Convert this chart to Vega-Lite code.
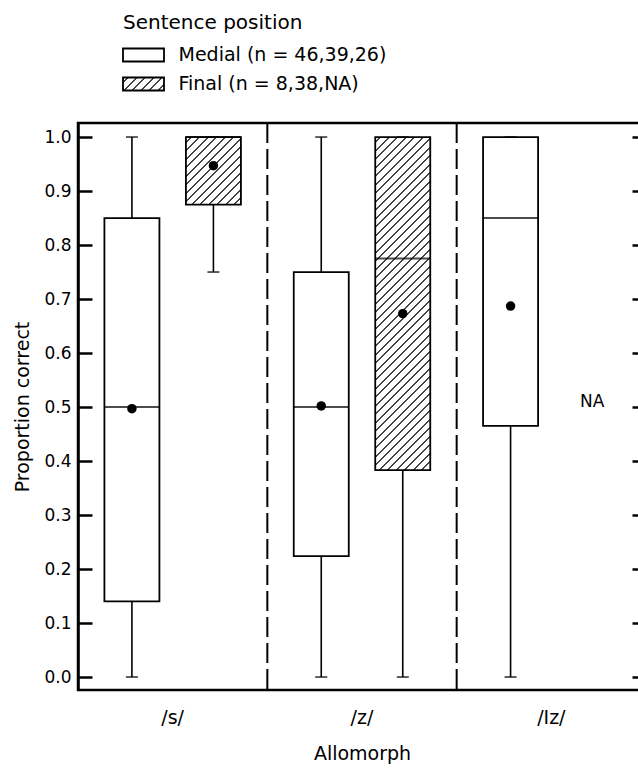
{
  "$schema": "https://vega.github.io/schema/vega-lite/v6.json",
  "width": 568,
  "height": 567,
  "autosize": {"type": "none"},
  "padding": {"left": 78, "top": 123, "right": -8, "bottom": 81},
  "params": [
    {"name": "hs", "value": [
      {"offset":0,"color":"#fff"},
      {"offset":0.01,"color":"#fff"},{"offset":0.01,"color":"#444"},{"offset":0.015,"color":"#444"},{"offset":0.015,"color":"#fff"},
      {"offset":0.03,"color":"#fff"},{"offset":0.03,"color":"#444"},{"offset":0.035,"color":"#444"},{"offset":0.035,"color":"#fff"},
      {"offset":0.05,"color":"#fff"},{"offset":0.05,"color":"#444"},{"offset":0.055,"color":"#444"},{"offset":0.055,"color":"#fff"},
      {"offset":0.07,"color":"#fff"},{"offset":0.07,"color":"#444"},{"offset":0.075,"color":"#444"},{"offset":0.075,"color":"#fff"},
      {"offset":0.09,"color":"#fff"},{"offset":0.09,"color":"#444"},{"offset":0.095,"color":"#444"},{"offset":0.095,"color":"#fff"},
      {"offset":0.11,"color":"#fff"},{"offset":0.11,"color":"#444"},{"offset":0.115,"color":"#444"},{"offset":0.115,"color":"#fff"},
      {"offset":0.13,"color":"#fff"},{"offset":0.13,"color":"#444"},{"offset":0.135,"color":"#444"},{"offset":0.135,"color":"#fff"},
      {"offset":0.15,"color":"#fff"},{"offset":0.15,"color":"#444"},{"offset":0.155,"color":"#444"},{"offset":0.155,"color":"#fff"},
      {"offset":0.17,"color":"#fff"},{"offset":0.17,"color":"#444"},{"offset":0.175,"color":"#444"},{"offset":0.175,"color":"#fff"},
      {"offset":0.19,"color":"#fff"},{"offset":0.19,"color":"#444"},{"offset":0.195,"color":"#444"},{"offset":0.195,"color":"#fff"},
      {"offset":0.21,"color":"#fff"},{"offset":0.21,"color":"#444"},{"offset":0.215,"color":"#444"},{"offset":0.215,"color":"#fff"},
      {"offset":0.23,"color":"#fff"},{"offset":0.23,"color":"#444"},{"offset":0.235,"color":"#444"},{"offset":0.235,"color":"#fff"},
      {"offset":0.25,"color":"#fff"},{"offset":0.25,"color":"#444"},{"offset":0.255,"color":"#444"},{"offset":0.255,"color":"#fff"},
      {"offset":0.27,"color":"#fff"},{"offset":0.27,"color":"#444"},{"offset":0.275,"color":"#444"},{"offset":0.275,"color":"#fff"},
      {"offset":0.29,"color":"#fff"},{"offset":0.29,"color":"#444"},{"offset":0.295,"color":"#444"},{"offset":0.295,"color":"#fff"},
      {"offset":0.31,"color":"#fff"},{"offset":0.31,"color":"#444"},{"offset":0.315,"color":"#444"},{"offset":0.315,"color":"#fff"},
      {"offset":0.33,"color":"#fff"},{"offset":0.33,"color":"#444"},{"offset":0.335,"color":"#444"},{"offset":0.335,"color":"#fff"},
      {"offset":0.35,"color":"#fff"},{"offset":0.35,"color":"#444"},{"offset":0.355,"color":"#444"},{"offset":0.355,"color":"#fff"},
      {"offset":0.37,"color":"#fff"},{"offset":0.37,"color":"#444"},{"offset":0.375,"color":"#444"},{"offset":0.375,"color":"#fff"},
      {"offset":0.39,"color":"#fff"},{"offset":0.39,"color":"#444"},{"offset":0.395,"color":"#444"},{"offset":0.395,"color":"#fff"},
      {"offset":0.41,"color":"#fff"},{"offset":0.41,"color":"#444"},{"offset":0.415,"color":"#444"},{"offset":0.415,"color":"#fff"},
      {"offset":0.43,"color":"#fff"},{"offset":0.43,"color":"#444"},{"offset":0.435,"color":"#444"},{"offset":0.435,"color":"#fff"},
      {"offset":0.45,"color":"#fff"},{"offset":0.45,"color":"#444"},{"offset":0.455,"color":"#444"},{"offset":0.455,"color":"#fff"},
      {"offset":0.47,"color":"#fff"},{"offset":0.47,"color":"#444"},{"offset":0.475,"color":"#444"},{"offset":0.475,"color":"#fff"},
      {"offset":0.49,"color":"#fff"},{"offset":0.49,"color":"#444"},{"offset":0.495,"color":"#444"},{"offset":0.495,"color":"#fff"},
      {"offset":0.51,"color":"#fff"},{"offset":0.51,"color":"#444"},{"offset":0.515,"color":"#444"},{"offset":0.515,"color":"#fff"},
      {"offset":0.53,"color":"#fff"},{"offset":0.53,"color":"#444"},{"offset":0.535,"color":"#444"},{"offset":0.535,"color":"#fff"},
      {"offset":0.55,"color":"#fff"},{"offset":0.55,"color":"#444"},{"offset":0.555,"color":"#444"},{"offset":0.555,"color":"#fff"},
      {"offset":0.57,"color":"#fff"},{"offset":0.57,"color":"#444"},{"offset":0.575,"color":"#444"},{"offset":0.575,"color":"#fff"},
      {"offset":0.59,"color":"#fff"},{"offset":0.59,"color":"#444"},{"offset":0.595,"color":"#444"},{"offset":0.595,"color":"#fff"},
      {"offset":0.61,"color":"#fff"},{"offset":0.61,"color":"#444"},{"offset":0.615,"color":"#444"},{"offset":0.615,"color":"#fff"},
      {"offset":0.63,"color":"#fff"},{"offset":0.63,"color":"#444"},{"offset":0.635,"color":"#444"},{"offset":0.635,"color":"#fff"},
      {"offset":0.65,"color":"#fff"},{"offset":0.65,"color":"#444"},{"offset":0.655,"color":"#444"},{"offset":0.655,"color":"#fff"},
      {"offset":0.67,"color":"#fff"},{"offset":0.67,"color":"#444"},{"offset":0.675,"color":"#444"},{"offset":0.675,"color":"#fff"},
      {"offset":0.69,"color":"#fff"},{"offset":0.69,"color":"#444"},{"offset":0.695,"color":"#444"},{"offset":0.695,"color":"#fff"},
      {"offset":0.71,"color":"#fff"},{"offset":0.71,"color":"#444"},{"offset":0.715,"color":"#444"},{"offset":0.715,"color":"#fff"},
      {"offset":0.73,"color":"#fff"},{"offset":0.73,"color":"#444"},{"offset":0.735,"color":"#444"},{"offset":0.735,"color":"#fff"},
      {"offset":0.75,"color":"#fff"},{"offset":0.75,"color":"#444"},{"offset":0.755,"color":"#444"},{"offset":0.755,"color":"#fff"},
      {"offset":0.77,"color":"#fff"},{"offset":0.77,"color":"#444"},{"offset":0.775,"color":"#444"},{"offset":0.775,"color":"#fff"},
      {"offset":0.79,"color":"#fff"},{"offset":0.79,"color":"#444"},{"offset":0.795,"color":"#444"},{"offset":0.795,"color":"#fff"},
      {"offset":0.81,"color":"#fff"},{"offset":0.81,"color":"#444"},{"offset":0.815,"color":"#444"},{"offset":0.815,"color":"#fff"},
      {"offset":0.83,"color":"#fff"},{"offset":0.83,"color":"#444"},{"offset":0.835,"color":"#444"},{"offset":0.835,"color":"#fff"},
      {"offset":0.85,"color":"#fff"},{"offset":0.85,"color":"#444"},{"offset":0.855,"color":"#444"},{"offset":0.855,"color":"#fff"},
      {"offset":0.87,"color":"#fff"},{"offset":0.87,"color":"#444"},{"offset":0.875,"color":"#444"},{"offset":0.875,"color":"#fff"},
      {"offset":0.89,"color":"#fff"},{"offset":0.89,"color":"#444"},{"offset":0.895,"color":"#444"},{"offset":0.895,"color":"#fff"},
      {"offset":0.91,"color":"#fff"},{"offset":0.91,"color":"#444"},{"offset":0.915,"color":"#444"},{"offset":0.915,"color":"#fff"},
      {"offset":0.93,"color":"#fff"},{"offset":0.93,"color":"#444"},{"offset":0.935,"color":"#444"},{"offset":0.935,"color":"#fff"},
      {"offset":1,"color":"#fff"}
    ]}
  ],
  "config": {
    "font": "DejaVu Sans",
    "view": {"stroke": "black", "strokeWidth": 2.5},
    "axis": {"grid": false, "labelColor": "black", "titleColor": "black", "titleFontWeight": "normal"},
    "legend": {
      "orient": "none", "legendX": 45, "legendY": -110,
      "titleFontSize": 20, "titleFontWeight": "normal", "titleColor": "black", "titlePadding": 11,
      "labelFontSize": 19, "labelColor": "black", "labelLimit": 500,
      "symbolType": "M-2.05,-0.65H2.05V0.65H-2.05Z", "symbolSize": 400,
      "symbolStrokeWidth": 1.8, "symbolOffset": 9.5, "labelOffset": 24, "rowPadding": 7
    }
  },
  "datasets": {
    "box": [
      {"Allomorph": "/s/", "Position": "Medial", "min": 0, "q1": 0.14, "median": 0.5, "q3": 0.85, "max": 1, "mean": 0.497},
      {"Allomorph": "/s/", "Position": "Final", "min": 0.75, "q1": 0.875, "median": 1, "q3": 1, "max": 1, "mean": 0.947},
      {"Allomorph": "/z/", "Position": "Medial", "min": 0, "q1": 0.224, "median": 0.5, "q3": 0.75, "max": 1, "mean": 0.502},
      {"Allomorph": "/z/", "Position": "Final", "min": 0, "q1": 0.383, "median": 0.775, "q3": 1, "max": 1, "mean": 0.673},
      {"Allomorph": "/Iz/", "Position": "Medial", "min": 0, "q1": 0.465, "median": 0.85, "q3": 1, "max": 1, "mean": 0.687}
    ],
    "na": [{"Allomorph": "/Iz/", "Position": "Final", "label": "NA", "value": 0.5}],
    "sep": [{"Allomorph": "/z/"}, {"Allomorph": "/Iz/"}]
  },
  "encoding": {
    "x": {"field": "Allomorph", "type": "nominal",
          "scale": {"domain": ["/s/", "/z/", "/Iz/"], "paddingInner": 0, "paddingOuter": 0},
          "axis": {"title": "Allomorph", "labelAngle": 0, "ticks": false, "domain": false, "labelFontSize": 19, "labelPadding": 18,
                   "titleFontSize": 19, "titleY": 69, "titleBaseline": "alphabetic"}}
  },
  "layer": [
    {
      "data": {"name": "sep"},
      "mark": {"type": "rule", "strokeDash": [20, 6], "strokeWidth": 2, "color": "black"},
      "encoding": {
        "x": {"field": "Allomorph", "type": "nominal", "bandPosition": 0,
              "scale": {"domain": ["/s/", "/z/", "/Iz/"], "paddingInner": 0, "paddingOuter": 0},
              "axis": {"title": "Allomorph", "labelAngle": 0, "ticks": false, "domain": false, "labelFontSize": 19, "labelPadding": 18,
                       "titleFontSize": 19, "titleY": 69, "titleBaseline": "alphabetic"}}
      }
    },
    {
      "data": {"name": "box"},
      "mark": {"type": "rule", "strokeWidth": 1.6, "color": "black"},
      "encoding": {
        "xOffset": {"field": "Position", "type": "nominal", "scale": {"domain": ["Medial", "Final"], "paddingInner": 0.325, "paddingOuter": 0.324}},
        "y": {"field": "min", "type": "quantitative", "scale": {"domain": [-0.024, 1.026], "nice": false, "zero": false},
              "axis": {"orient": "right", "title": null, "labels": false, "domain": false, "values": [0, 0.1, 0.2, 0.3, 0.4, 0.5, 0.6, 0.7, 0.8, 0.9, 1],
                       "tickSize": -14, "tickWidth": 2.5, "tickColor": "black"}},
        "y2": {"field": "max"}
      }
    },
    {
      "data": {"name": "box"},
      "mark": {"type": "bar", "strokeWidth": 1.8,
               "fill": {"expr": "(datum.Position || datum.value) === 'Final' ? {gradient: 'linear', x1: 0, y1: 0, x2: (datum.Allomorph === '/s/' ? 3.083 : datum.Allomorph === '/z/' ? 0.205 : 9.419), y2: (datum.Allomorph === '/s/' ? 3.784 : datum.Allomorph === '/z/' ? 1.2418 : 2.986), stops: hs} : 'white'"}},
      "encoding": {
        "xOffset": {"field": "Position", "type": "nominal"},
        "y": {"field": "q1", "type": "quantitative",
              "axis": {"orient": "left", "title": "Proportion correct", "values": [0, 0.1, 0.2, 0.3, 0.4, 0.5, 0.6, 0.7, 0.8, 0.9, 1], "format": ".1f",
                       "tickSize": -14, "tickWidth": 2.5, "tickColor": "black", "domainColor": "black", "domainWidth": 2.5,
                       "labelPadding": 21, "labelFontSize": 17, "titleFontSize": 19, "titleX": -50, "titleY": 283.5,
                       "titleBaseline": "alphabetic", "titleAngle": 270, "titleAlign": "center"}},
        "y2": {"field": "q3"},
        "stroke": {"field": "Position", "type": "nominal", "scale": {"domain": ["Medial", "Final"], "range": ["black", "black"]},
                   "legend": {"title": "Sentence position",
                              "labelExpr": "datum.value === 'Medial' ? 'Medial  (n = 46,39,26)' : 'Final  (n = 8,38,NA)'"}}
      }
    },
    {
      "data": {"name": "box"},
      "mark": {"type": "tick", "size": 55, "thickness": 2, "color": "black"},
      "encoding": {
        "xOffset": {"field": "Position", "type": "nominal"},
        "y": {"field": "median", "type": "quantitative", "axis": null}
      }
    },
    {
      "data": {"name": "box"},
      "mark": {"type": "tick", "size": 12, "thickness": 1.8, "color": "black"},
      "encoding": {
        "xOffset": {"field": "Position", "type": "nominal"},
        "y": {"field": "min", "type": "quantitative", "axis": null}
      }
    },
    {
      "data": {"name": "box"},
      "mark": {"type": "tick", "size": 12, "thickness": 1.8, "color": "black"},
      "encoding": {
        "xOffset": {"field": "Position", "type": "nominal"},
        "y": {"field": "max", "type": "quantitative", "axis": null}
      }
    },
    {
      "data": {"name": "box"},
      "mark": {"type": "point", "filled": true, "size": 90, "color": "black", "opacity": 1},
      "encoding": {
        "xOffset": {"field": "Position", "type": "nominal"},
        "y": {"field": "mean", "type": "quantitative", "axis": null}
      }
    },
    {
      "data": {"name": "na"},
      "mark": {"type": "text", "fontSize": 17, "baseline": "alphabetic", "align": "center", "color": "black"},
      "encoding": {
        "xOffset": {"field": "Position", "type": "nominal"},
        "y": {"field": "value", "type": "quantitative", "axis": null},
        "text": {"field": "label"}
      }
    }
  ],
  "resolve": {"axis": {"y": "independent"}}
}
